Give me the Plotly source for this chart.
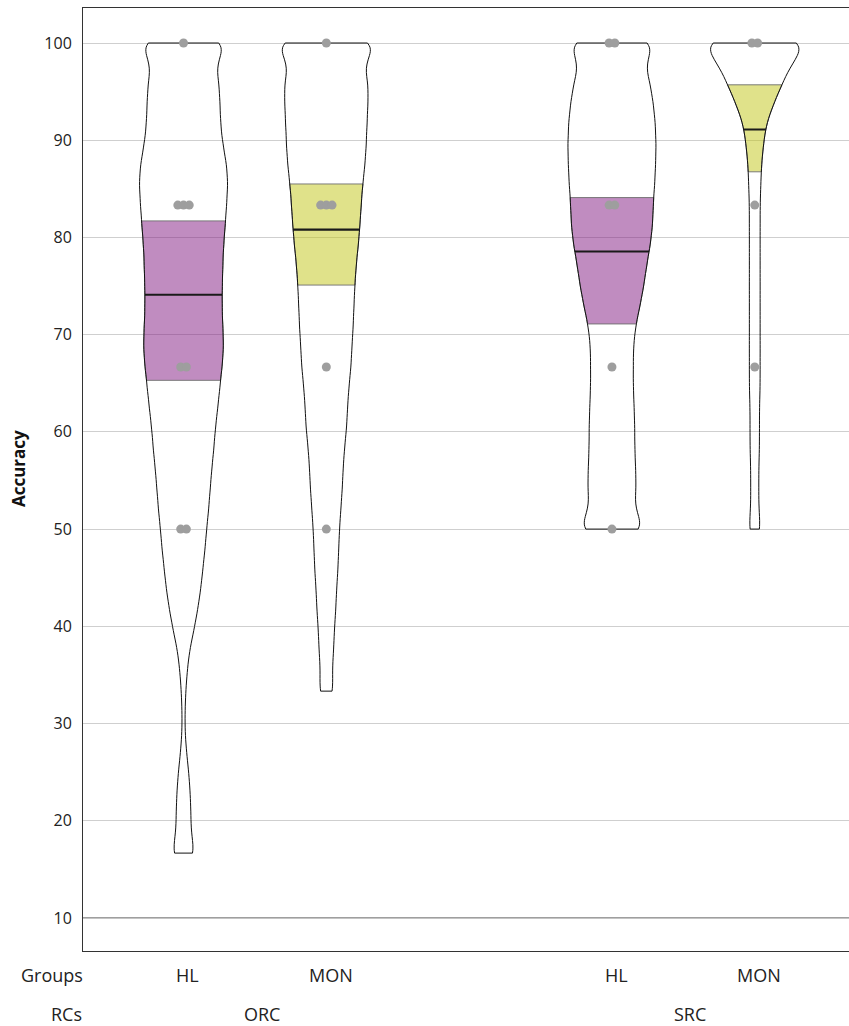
import numpy as np
import plotly.graph_objects as go

# Accuracy scores (in %) at which responses were tallied
score_levels = [16.67, 18.75, 20.83, 22.92, 25.0, 27.08, 29.17, 31.25, 33.33, 35.42,
                37.5, 39.58, 41.67, 43.75, 45.83, 47.92, 50.0, 52.08, 54.17, 56.25,
                58.33, 60.42, 62.5, 64.58, 66.67, 68.75, 70.83, 72.92, 75.0, 77.08,
                79.17, 81.25, 83.33, 85.42, 87.5, 89.58, 91.67, 93.75, 95.83, 97.92, 100.0]

# Number of observations at each score level
orc_hl_counts = [16, 10, 10, 9, 7, 4, 2, 2, 3, 5, 8, 14, 19, 23, 26, 29, 31, 34, 36, 38,
                 41, 43, 46, 49, 52, 54, 53, 52, 52, 53, 54, 56, 58, 60, 58, 53, 50, 49, 48, 43, 62]
orc_mon_counts = [0, 0, 0, 0, 0, 0, 0, 0, 10, 8, 10, 11, 13, 14, 16, 17, 18, 20, 22, 23,
                  25, 28, 29, 31, 34, 35, 37, 38, 39, 41, 44, 46, 48, 50, 53, 55, 56, 57, 58, 51, 74]
src_hl_counts = [0, 0, 0, 0, 0, 0, 0, 0, 0, 0, 0, 0, 0, 0, 0, 0, 47, 30, 33, 32,
                 31, 31, 30, 29, 29, 29, 32, 38, 43, 47, 52, 55, 56, 58, 59, 60, 59, 56, 52, 44, 62]
src_mon_counts = [0, 0, 0, 0, 0, 0, 0, 0, 0, 0, 0, 0, 0, 0, 0, 0, 9, 6, 6, 6,
                  7, 7, 7, 8, 8, 8, 8, 8, 8, 8, 8, 8, 8, 9, 10, 13, 17, 28, 41, 55, 81]

# Participant accuracies shown as dots
orc_hl_points = [100, 83.33, 83.33, 83.33, 66.67, 66.67, 50, 50]
orc_mon_points = [100, 83.33, 83.33, 83.33, 66.67, 50]
src_hl_points = [100, 100, 83.33, 83.33, 66.67, 50]
src_mon_points = [100, 100, 83.33, 66.67]

# Quartiles per violin (ORC-HL, ORC-MON, SRC-HL, SRC-MON)
q1_values = [65.3, 75.1, 71.1, 86.75]
median_values = [74.1, 80.8, 78.55, 91.1]
q3_values = [81.7, 85.5, 84.1, 95.7]

rc_names = ["ORC", "SRC"]
group_names = ["HL", "MON"]
accuracy_ticks = [10, 20, 30, 40, 50, 60, 70, 80, 90, 100]

violins = [
    ("ORC", "HL", orc_hl_counts, orc_hl_points),
    ("ORC", "MON", orc_mon_counts, orc_mon_points),
    ("SRC", "HL", src_hl_counts, src_hl_points),
    ("SRC", "MON", src_mon_counts, src_mon_points),
]

fill_colors = {"HL": "rgba(129,25,129,0.5)", "MON": "rgba(194,198,22,0.5)"}
BANDWIDTH = 1.3
DOT_SPREAD = 0.04
FONT = "Open Sans"


def slot(rc, grp):
    return rc_names.index(rc) * 3 + group_names.index(grp)


fig = go.Figure()
dot_x, dot_y = [], []

for i, (rc, grp, counts, pts) in enumerate(violins):
    pos = slot(rc, grp)
    samples = np.repeat(np.array(score_levels), counts).tolist()
    common = dict(y=samples, x0=pos, bandwidth=BANDWIDTH,
                  scalegroup=f"{rc}-{grp}", scalemode="width", points=False,
                  hoverinfo="skip", showlegend=False)
    # interquartile band, clipped to the density outline
    fig.add_trace(go.Violin(**common, spanmode="manual", span=[q1_values[i], q3_values[i]],
                            fillcolor=fill_colors[grp],
                            line=dict(color="rgba(110,110,110,0.9)", width=1)))
    # median stroke
    m = median_values[i]
    fig.add_trace(go.Violin(**common, spanmode="manual", span=[m - 0.11, m + 0.11],
                            fillcolor="#1a1a1a", line=dict(width=0)))
    # density outline
    fig.add_trace(go.Violin(**common, spanmode="hard", fillcolor="rgba(0,0,0,0)",
                            line=dict(color="#111111", width=1)))

    # spread repeated values side by side
    for v in pts:
        n = pts.count(v)
        k = sum(1 for yy, xx in zip(dot_y, dot_x) if yy == v and abs(xx - pos) < 0.5)
        dot_x.append(pos + (k - (n - 1) / 2) * DOT_SPREAD)
        dot_y.append(v)

fig.add_trace(go.Scatter(x=dot_x, y=dot_y, mode="markers",
                         marker=dict(size=9, color="rgb(158,158,158)", line=dict(width=0)),
                         hoverinfo="skip", showlegend=False, cliponaxis=False))

label_font = dict(family=FONT, size=18, color="#222")
annotations = []
for rc in rc_names:
    for grp in group_names:
        annotations.append(dict(x=slot(rc, grp) + 0.03, y=-0.0255, xref="x", yref="paper",
                                text=grp, showarrow=False, xanchor="center", yanchor="middle",
                                font=label_font))
    annotations.append(dict(x=slot(rc, "HL") + 0.55, y=-0.067, xref="x", yref="paper",
                            text=rc, showarrow=False, xanchor="center", yanchor="middle",
                            font=label_font))
annotations.append(dict(x=-0.0405, y=-0.0255, xref="paper", yref="paper", text="Groups",
                        showarrow=False, xanchor="center", yanchor="middle", font=label_font))
annotations.append(dict(x=-0.0215, y=-0.067, xref="paper", yref="paper", text="RCs",
                        showarrow=False, xanchor="center", yanchor="middle", font=label_font))
annotations.append(dict(x=-0.085, y=0.512, xref="paper", yref="paper",
                        text="<b>Accuracy</b>", textangle=-90, showarrow=False,
                        xanchor="center", yanchor="middle",
                        font=dict(family=FONT, size=17, color="#111")))

fig.update_layout(
    width=849, height=1026,
    margin=dict(l=83, r=0, t=8, b=75),
    paper_bgcolor="white", plot_bgcolor="white",
    violinmode="overlay", violingap=0.384, violingroupgap=0,
    showlegend=False,
    xaxis=dict(range=[-0.704, 4.66], showgrid=False, zeroline=False, showticklabels=False,
               showline=True, mirror=True, linecolor="#333", linewidth=1, ticks=""),
    yaxis=dict(range=[6.6, 103.6], tickvals=accuracy_ticks, showgrid=True,
               gridcolor="#cfcfcf", gridwidth=1, zeroline=False, showline=True,
               linecolor="#333", linewidth=1, ticks="outside", ticklen=7,
               tickcolor="rgba(0,0,0,0)",
               tickfont=dict(family=FONT, size=16, color="#222")),
    shapes=[dict(type="line", xref="paper", x0=0, x1=1, yref="y",
                 y0=accuracy_ticks[0], y1=accuracy_ticks[0],
                 line=dict(color="#7a7a7a", width=1), layer="above")],
    annotations=annotations,
)

fig.write_html("out.html")
